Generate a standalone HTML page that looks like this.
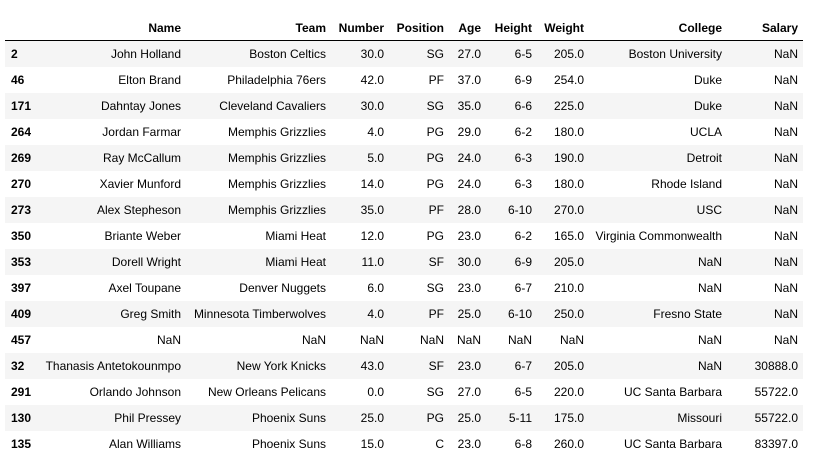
<!DOCTYPE html>
<html><head><meta charset="utf-8"><style>
body{margin:0;width:815px;height:448px;overflow:hidden;background:#fff;font-family:"Liberation Sans",Arial,sans-serif;font-size:12px;color:#000}
.r{position:absolute;left:5px;width:798px;height:26px}
.c{position:absolute;white-space:nowrap;line-height:26px;transform:translateX(-100%)}
.i{position:absolute;left:6px;font-weight:bold;line-height:26px}
.h{font-weight:bold}
</style></head><body>
<div id="t"></div>
<script>
const cols=["Name","Team","Number","Position","Age","Height","Weight","College","Salary"];
const rights=[181,326,384,444,481,532,584,722,798];
const rows=[
["2","John Holland","Boston Celtics","30.0","SG","27.0","6-5","205.0","Boston University","NaN"],
["46","Elton Brand","Philadelphia 76ers","42.0","PF","37.0","6-9","254.0","Duke","NaN"],
["171","Dahntay Jones","Cleveland Cavaliers","30.0","SG","35.0","6-6","225.0","Duke","NaN"],
["264","Jordan Farmar","Memphis Grizzlies","4.0","PG","29.0","6-2","180.0","UCLA","NaN"],
["269","Ray McCallum","Memphis Grizzlies","5.0","PG","24.0","6-3","190.0","Detroit","NaN"],
["270","Xavier Munford","Memphis Grizzlies","14.0","PG","24.0","6-3","180.0","Rhode Island","NaN"],
["273","Alex Stepheson","Memphis Grizzlies","35.0","PF","28.0","6-10","270.0","USC","NaN"],
["350","Briante Weber","Miami Heat","12.0","PG","23.0","6-2","165.0","Virginia Commonwealth","NaN"],
["353","Dorell Wright","Miami Heat","11.0","SF","30.0","6-9","205.0","NaN","NaN"],
["397","Axel Toupane","Denver Nuggets","6.0","SG","23.0","6-7","210.0","NaN","NaN"],
["409","Greg Smith","Minnesota Timberwolves","4.0","PF","25.0","6-10","250.0","Fresno State","NaN"],
["457","NaN","NaN","NaN","NaN","NaN","NaN","NaN","NaN","NaN"],
["32","Thanasis Antetokounmpo","New York Knicks","43.0","SF","23.0","6-7","205.0","NaN","30888.0"],
["291","Orlando Johnson","New Orleans Pelicans","0.0","SG","27.0","6-5","220.0","UC Santa Barbara","55722.0"],
["130","Phil Pressey","Phoenix Suns","25.0","PG","25.0","5-11","175.0","Missouri","55722.0"],
["135","Alan Williams","Phoenix Suns","15.0","C","23.0","6-8","260.0","UC Santa Barbara","83397.0"]];
const t=document.getElementById('t');
let h='<div class="r" style="top:15px;border-bottom:1px solid #000;height:25px">';
cols.forEach((c,j)=>{h+=`<span class="c h" style="left:${rights[j]-5}px;line-height:26px">${c}</span>`;});
h+='</div>';
rows.forEach((r,k)=>{
 h+=`<div class="r" style="top:${41+k*26}px;background:${k%2==0?'#f5f5f5':'#fff'}"><span class="i">${r[0]}</span>`;
 for(let j=1;j<r.length;j++)h+=`<span class="c" style="left:${rights[j-1]-5}px">${r[j]}</span>`;
 h+='</div>';
});
t.innerHTML=h;
</script>
</body></html>
